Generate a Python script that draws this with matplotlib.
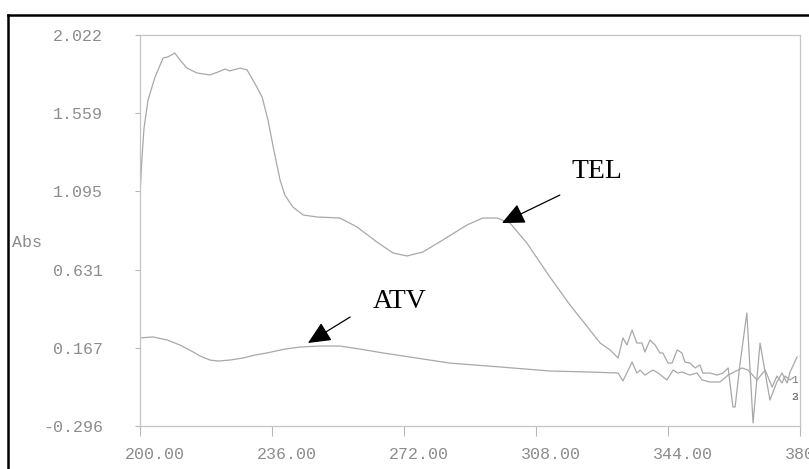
import matplotlib
matplotlib.use("Agg")
import matplotlib.pyplot as plt
from matplotlib.lines import Line2D
from matplotlib.transforms import ScaledTranslation

# wavelength (nm) / absorbance for the two spectra
tel_nm = [200.0, 200.5, 201.1, 202.2, 204.1, 206.3, 207.6, 209.5, 210.9, 212.8,
          215.5, 219.1, 221.3, 223.2, 224.5, 227.3, 229.2, 231.4, 233.3, 234.9,
          236.5, 238.2, 239.5, 241.7, 244.5, 248.3, 254.5, 259.2, 264.6, 269.0,
          272.8, 277.2, 282.6, 289.2, 293.5, 297.4, 300.9, 305.5, 311.8, 317.3,
          322.7, 325.5, 328.2, 330.4, 331.7, 332.8, 334.2, 335.5, 336.9, 337.7,
          339.1, 340.5, 341.8, 342.6, 344.0, 345.1, 346.5, 347.8, 348.6, 350.0,
          351.4, 352.7, 353.5, 355.4, 357.4, 359.0, 360.4, 361.7, 362.3, 363.6,
          365.5, 367.2, 369.1, 371.8, 373.7, 375.1, 376.5, 377.3, 379.2]
tel_abs = [1.073, 1.281, 1.471, 1.637, 1.773, 1.886, 1.892, 1.915, 1.874, 1.826,
           1.797, 1.785, 1.803, 1.820, 1.809, 1.826, 1.815, 1.732, 1.654, 1.518,
           1.340, 1.162, 1.073, 1.002, 0.955, 0.943, 0.937, 0.884, 0.795, 0.730,
           0.712, 0.736, 0.807, 0.896, 0.937, 0.937, 0.907, 0.789, 0.587, 0.421,
           0.273, 0.196, 0.155, 0.107, 0.226, 0.184, 0.273, 0.196, 0.196, 0.143,
           0.214, 0.184, 0.137, 0.137, 0.077, 0.077, 0.155, 0.137, 0.083, 0.077,
           0.048, 0.066, 0.018, 0.018, 0.006, 0.018, 0.048, -0.183, -0.183, 0.066,
           0.374, -0.278, 0.196, -0.142, -0.035, 0.018, -0.041, 0.024, 0.113]

atv_nm = [200.0, 203.5, 207.4, 210.9, 214.5, 216.4, 219.1, 221.3, 224.5, 228.1,
          231.4, 234.6, 239.5, 243.6, 249.1, 254.5, 260.0, 266.3, 273.6, 284.5,
          298.2, 311.8, 322.7, 330.4, 331.7, 334.2, 335.5, 336.4, 337.7, 339.9,
          341.3, 343.7, 345.4, 346.7, 347.8, 350.0, 351.9, 353.3, 355.4, 358.2,
          360.4, 364.2, 365.8, 368.3, 370.5, 372.4, 373.7, 375.1, 375.9, 377.3,
          378.1]
atv_abs = [0.226, 0.232, 0.214, 0.184, 0.143, 0.119, 0.095, 0.089, 0.095, 0.107,
           0.125, 0.137, 0.160, 0.172, 0.178, 0.178, 0.160, 0.137, 0.113, 0.077,
           0.054, 0.030, 0.024, 0.018, -0.029, 0.083, 0.018, 0.036, 0.006, 0.036,
           0.018, -0.023, 0.036, 0.018, 0.024, 0.006, 0.018, -0.023, -0.035, -0.035,
           0.006, 0.048, 0.036, -0.023, 0.036, -0.065, 0.0, -0.041, 0.0, -0.023,
           -0.011]

x_ticks = [200, 236, 272, 308, 344, 380]
x_tick_labels = ["200.00", "236.00", "272.00", "308.00", "344.00", "380.00"]
y_ticks = [2.022, 1.559, 1.095, 0.631, 0.167, -0.296]
y_tick_labels = ["2.022", "1.559", "1.095", "0.631", "0.167", "-0.296"]

mono = "Liberation Mono"
grey_txt = "#8c8c8c"
grey_line = "#a8a8a8"

fig = plt.figure(figsize=(8.09, 4.69), dpi=100)
ax = fig.add_axes([140 / 809, 1 - 426 / 469, 660 / 809, 391 / 469])

ax.plot(tel_nm, tel_abs, color=grey_line, lw=0.9)
ax.plot(atv_nm, atv_abs, color=grey_line, lw=0.9)

ax.set_xlim(200, 380)
ax.set_ylim(-0.296, 2.022)

for s in ax.spines.values():
    s.set_color("#c4c4c4")
    s.set_linewidth(0.9)

ax.set_xticks(x_ticks)
ax.set_xticklabels(x_tick_labels, family=mono, fontsize=12, color=grey_txt)
ax.set_yticks(y_ticks)
ax.set_yticklabels(y_tick_labels, family=mono, fontsize=12, color=grey_txt)
ax.tick_params(axis="x", direction="out", length=7, width=0.8, color="#b8b8b8", pad=8)
ax.tick_params(axis="y", direction="out", length=3.6, width=0.8, color="#b8b8b8", pad=23)

# x labels sit a little right of their ticks
shift = ScaledTranslation(15 / 100, 0, fig.dpi_scale_trans)
for lab in ax.get_xticklabels():
    lab.set_transform(lab.get_transform() + shift)

fig.text(12 / 809, 1 - 242 / 469, "Abs", family=mono, fontsize=12,
         color=grey_txt, va="center", ha="left")

# trace numbers at the right end
ax.text(378.4, -0.023, "1", family=mono, fontsize=8, color="#777777",
        ha="center", va="center")
ax.text(378.4, -0.125, "2", family=mono, fontsize=8, color="#777777",
        ha="center", va="center")
ax.text(378.4, -0.125, "3", family=mono, fontsize=8, color="#777777",
        ha="center", va="center")

arrow = dict(arrowstyle="-|>,head_length=0.7,head_width=0.32", color="black",
             lw=0.9, mutation_scale=20, shrinkA=0, shrinkB=0)
ax.annotate("", xy=(298.7, 0.907), xytext=(314.5, 1.073), arrowprops=arrow)
ax.annotate("", xy=(245.8, 0.196), xytext=(257.3, 0.350), arrowprops=arrow)
ax.text(324.6, 1.210, "TEL", family="Liberation Serif", fontsize=20,
        ha="center", va="center")
ax.text(270.9, 0.445, "ATV", family="Liberation Serif", fontsize=20,
        ha="center", va="center")

# outer black frame (right and bottom edges fall outside the image)
fig.add_artist(Line2D([8 / 809, 8 / 809], [0, 1 - 15 / 469], color="black",
                      lw=1.8, transform=fig.transFigure))
fig.add_artist(Line2D([8 / 809, 1], [1 - 15 / 469, 1 - 15 / 469], color="black",
                      lw=1.8, transform=fig.transFigure))

fig.savefig("out.png", dpi=100)
